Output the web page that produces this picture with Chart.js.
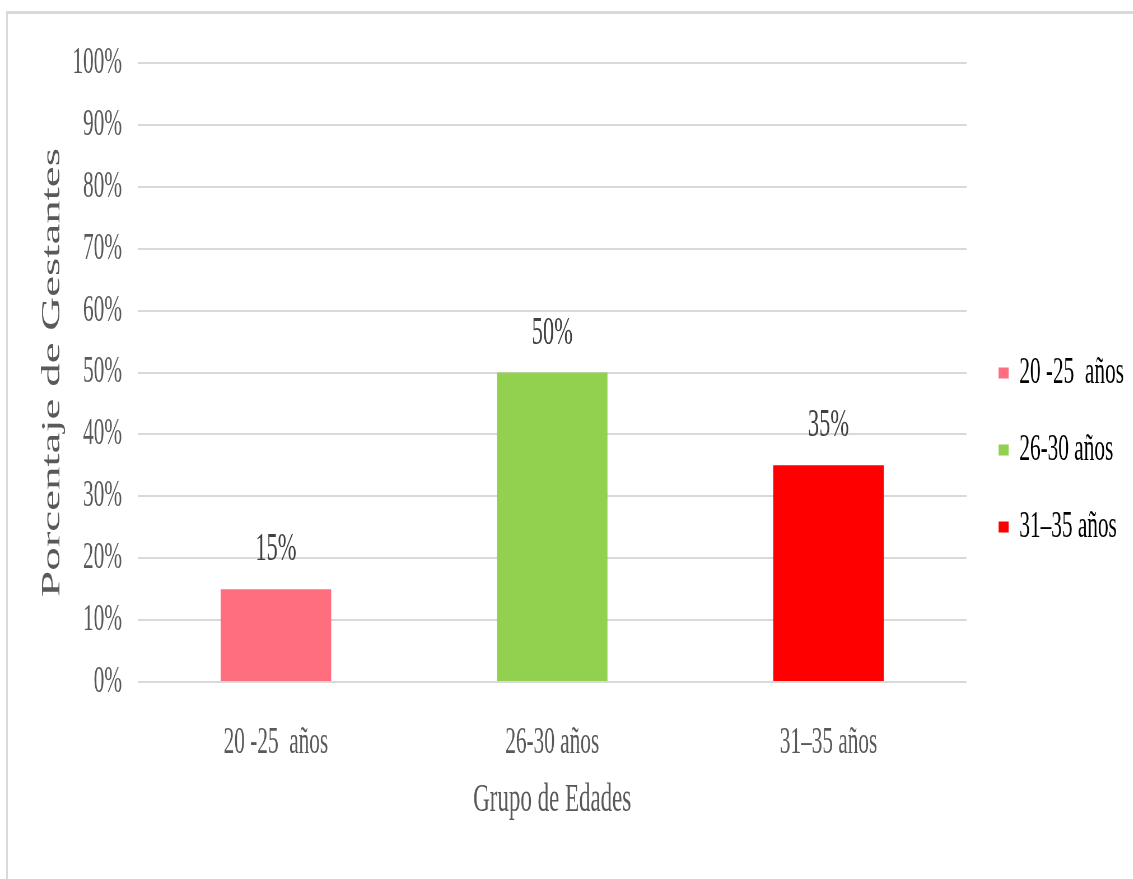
<!DOCTYPE html>
<html lang="es">
<head>
<meta charset="utf-8">
<title>Porcentaje de Gestantes por Grupo de Edades</title>
<script src="https://cdn.jsdelivr.net/npm/chart.js@4"></script>
<style>
  html, body { margin: 0; padding: 0; background: #fff; overflow: hidden; }
  #frame {
    position: absolute; left: 6px; top: 11px; width: 1140px; height: 880px;
    border-top: 3px solid #d9d9d9; border-left: 2px solid #d9d9d9;
  }
  #chart {
    position: absolute; left: 0; top: 0;
    transform: scaleX(0.56); transform-origin: 0 0;
  }
</style>
</head>
<body>
<div id="frame"></div>
<canvas id="chart" width="2023" height="879"></canvas>
<script>
// Data
const ageGroups = ['20 -25  años', '26-30 años', '31–35 años'];
const percentages = [15, 50, 35];
const barColors = ['#ff6e7f', '#92d050', '#ff0000'];
const yTicks = [0, 10, 20, 30, 40, 50, 60, 70, 80, 90, 100];

const textColor = '#595959';
const serif = '"Liberation Serif", "Times New Roman", serif';

// Labels on top of each bar
const valueLabels = {
    id: 'valueLabels',
    afterDatasetsDraw(chart) {
        const ctx = chart.ctx;
        const meta = chart.getDatasetMeta(0);
        ctx.save();
        ctx.font = '40px ' + serif;
        ctx.fillStyle = '#404040';
        ctx.textAlign = 'center';
        ctx.textBaseline = 'alphabetic';
        meta.data.forEach((bar, i) => {
            ctx.fillText(percentages[i] + '%', bar.x, bar.y - 29);
        });
        ctx.restore();
    }
};

const ctx = document.getElementById('chart').getContext('2d');
new Chart(ctx, {
    type: 'bar',
    data: {
        labels: ageGroups,
        datasets: [{
            label: 'Porcentaje de Gestantes',
            data: percentages,
            backgroundColor: barColors,
            borderWidth: 0,
            barPercentage: 0.8,
            categoryPercentage: 0.5
        }]
    },
    options: {
        responsive: false,
        animation: false,
        devicePixelRatio: 1,
        layout: { padding: { top: 63, left: 0, right: 6, bottom: 42 } },
        plugins: {
            tooltip: { enabled: false },
            legend: {
                position: 'right',
                labels: {
                    boxWidth: 18,
                    boxHeight: 11,
                    padding: 39,
                    color: textColor,
                    font: { family: serif, size: 38 },
                    generateLabels: (chart) => ageGroups.map((g, i) => ({
                        text: g,
                        fillStyle: barColors[i],
                        strokeStyle: barColors[i],
                        lineWidth: 0,
                        index: i
                    }))
                }
            }
        },
        scales: {
            x: {
                grid: { display: false },
                border: { display: false },
                ticks: {
                    color: textColor,
                    padding: 30,
                    font: { family: serif, size: 38 }
                },
                title: {
                    display: true,
                    text: 'Grupo de Edades',
                    color: textColor,
                    font: { family: serif, size: 41 },
                    padding: { top: 0, bottom: 12 }
                },
                afterFit: (scale) => { scale.height = 155; }
            },
            y: {
                min: 0,
                max: 100,
                afterBuildTicks: (scale) => {
                    scale.ticks = yTicks.map(v => ({ value: v }));
                },
                grid: { color: '#d9d9d9', lineWidth: 2, drawTicks: false },
                border: { display: false },
                ticks: {
                    color: textColor,
                    padding: 28,
                    font: { family: serif, size: 38 },
                    callback: (v) => v + '%'
                },
                title: {
                    display: true,
                    text: 'Porcentaje de Gestantes',
                    color: textColor,
                    font: { family: serif, size: 47 },
                    padding: { top: 65, bottom: 0 }
                },
                afterFit: (scale) => { scale.width = 246; }
            },
            // empty spacer between the plot and the legend
            gap: {
                position: 'right',
                grid: { display: false },
                border: { display: false },
                ticks: { display: false },
                afterFit: (scale) => { scale.width = 18; }
            }
        }
    },
    plugins: [valueLabels]
});
</script>
</body>
</html>
